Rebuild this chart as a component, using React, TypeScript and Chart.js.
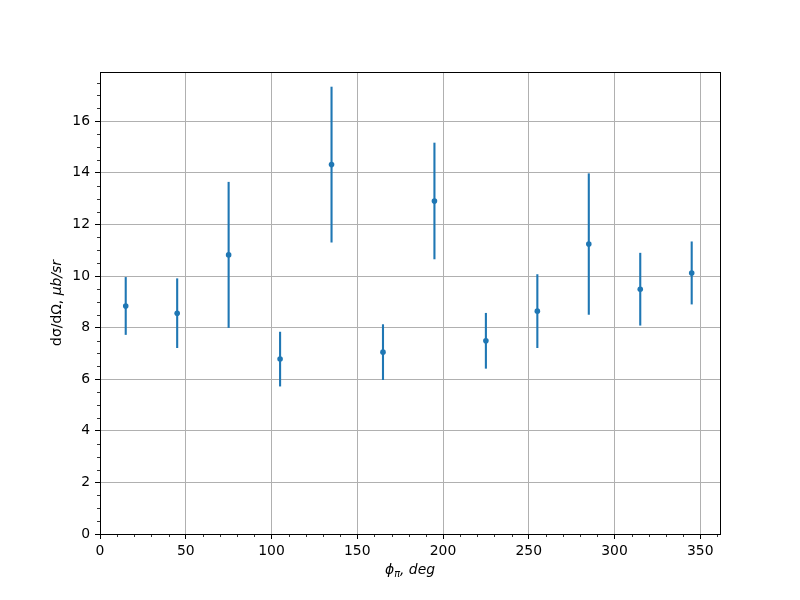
import { useEffect, useRef } from "react";
import { Chart, registerables } from "chart.js";

Chart.register(...registerables);

// ---- data ----
const phiDeg = [15, 45, 75, 105, 135, 165, 195, 225, 255, 285, 315, 345];
const crossSection = [8.84, 8.56, 10.82, 6.78, 14.32, 7.05, 12.91, 7.49, 8.64, 11.24, 9.49, 10.12];
const crossSectionError = [1.12, 1.35, 2.83, 1.06, 3.02, 1.08, 2.26, 1.08, 1.43, 2.74, 1.41, 1.22];
const xTickValues = [0, 50, 100, 150, 200, 250, 300, 350];
const yTickValues = [0, 2, 4, 6, 8, 10, 12, 14, 16];
const xMinorStep = 10;
const yMinorStep = 0.5;
const xLimits = [0, 361.5];
const yLimits = [0, 17.91];

const BLUE = "#1f77b4";
const FONT = "DejaVu Sans";
const FS = 13.9;

function minorTicks(min: number, max: number, step: number, majors: number[]) {
  const out: number[] = [];
  const n = Math.floor((max - min) / step + 1e-9);
  for (let i = 0; i <= n; i++) {
    const v = +(min + i * step).toFixed(6);
    if (!majors.some((m) => Math.abs(m - v) < 1e-6)) out.push(v);
  }
  return out;
}

function drawRuns(
  ctx: CanvasRenderingContext2D,
  runs: { text: string; font: string; dy?: number }[],
  cx: number,
  baseY: number
) {
  let total = 0;
  const widths = runs.map((r) => {
    ctx.font = r.font;
    const w = ctx.measureText(r.text).width;
    total += w;
    return w;
  });
  let x = cx - total / 2;
  ctx.textAlign = "left";
  ctx.textBaseline = "alphabetic";
  runs.forEach((r, i) => {
    ctx.font = r.font;
    ctx.fillText(r.text, x, baseY + (r.dy || 0));
    x += widths[i];
  });
}

const decorPlugin = {
  id: "decor",
  beforeDatasetsDraw(chart: any) {
    const { ctx, scales } = chart;
    const x = scales.x;
    const y = scales.y;
    ctx.save();
    ctx.strokeStyle = BLUE;
    ctx.lineWidth = 2.1;
    ctx.lineCap = "butt";
    phiDeg.forEach((p, i) => {
      const px = x.getPixelForValue(p);
      ctx.beginPath();
      ctx.moveTo(px, y.getPixelForValue(crossSection[i] - crossSectionError[i]));
      ctx.lineTo(px, y.getPixelForValue(crossSection[i] + crossSectionError[i]));
      ctx.stroke();
    });
    ctx.restore();
  },
  afterDraw(chart: any) {
    const { ctx, chartArea, scales } = chart;
    const x = scales.x;
    const y = scales.y;
    const { left, right, top, bottom } = chartArea;
    ctx.save();
    // minor ticks
    ctx.strokeStyle = "#000";
    ctx.lineWidth = 0.8;
    minorTicks(xLimits[0], xLimits[1], xMinorStep, xTickValues).forEach((v) => {
      const px = Math.round(x.getPixelForValue(v)) + 0.5;
      ctx.beginPath();
      ctx.moveTo(px, bottom);
      ctx.lineTo(px, bottom + 3);
      ctx.stroke();
    });
    minorTicks(yLimits[0], yLimits[1], yMinorStep, yTickValues).forEach((v) => {
      const py = Math.round(y.getPixelForValue(v)) + 0.5;
      ctx.beginPath();
      ctx.moveTo(left, py);
      ctx.lineTo(left - 3, py);
      ctx.stroke();
    });
    // frame
    ctx.lineWidth = 1;
    ctx.strokeStyle = "#000";
    ctx.strokeRect(Math.round(left) + 0.5, Math.round(top) + 0.5, Math.round(right - left), Math.round(bottom - top));
    // axis titles
    ctx.fillStyle = "#000";
    drawRuns(
      ctx,
      [
        { text: "ϕ", font: `italic ${FS}px "${FONT}"` },
        { text: "π", font: `italic ${FS * 0.7}px "${FONT}"`, dy: 2.5 },
        { text: ", deg", font: `italic ${FS}px "${FONT}"` },
      ],
      (left + right) / 2,
      574
    );
    ctx.save();
    ctx.translate(61, (top + bottom) / 2);
    ctx.rotate(-Math.PI / 2);
    drawRuns(
      ctx,
      [
        { text: "dσ/dΩ, ", font: `${FS}px "${FONT}"` },
        { text: "μb/sr", font: `italic ${FS}px "${FONT}"` },
      ],
      0,
      0
    );
    ctx.restore();
    ctx.restore();
  },
};

export default function App() {
  const ref = useRef<HTMLCanvasElement | null>(null);

  useEffect(() => {
    if (!ref.current) return;
    Chart.defaults.font.family = FONT;
    const chart = new Chart(ref.current, {
      type: "scatter",
      data: {
        datasets: [
          {
            data: phiDeg.map((p, i) => ({ x: p, y: crossSection[i] })),
            backgroundColor: BLUE,
            borderColor: BLUE,
            pointRadius: 2.8,
            pointBorderWidth: 0,
            pointHoverRadius: 2.8,
          },
        ],
      },
      options: {
        animation: false,
        responsive: false,
        events: [],
        layout: { padding: { left: 0, right: 80, top: 72, bottom: 0 } },
        plugins: {
          legend: { display: false },
          tooltip: { enabled: false },
        },
        scales: {
          x: {
            type: "linear",
            min: xLimits[0],
            max: xLimits[1],
            afterFit: (s: any) => {
              s.height = 66;
            },
            afterBuildTicks: (s: any) => {
              s.ticks = xTickValues.map((v) => ({ value: v }));
            },
            border: { display: false },
            grid: {
              color: "#b0b0b0",
              lineWidth: 1,
              tickColor: "#000",
              tickLength: 5,
              tickWidth: 1,
            },
            ticks: {
              color: "#000",
              font: { size: FS, family: FONT },
              padding: 4,
              maxRotation: 0,
              autoSkip: false,
              callback: (v: any) => String(v),
            },
          },
          y: {
            type: "linear",
            min: yLimits[0],
            max: yLimits[1],
            afterFit: (s: any) => {
              s.width = 100;
            },
            afterBuildTicks: (s: any) => {
              s.ticks = yTickValues.map((v) => ({ value: v }));
            },
            border: { display: false },
            grid: {
              color: "#b0b0b0",
              lineWidth: 1,
              tickColor: "#000",
              tickLength: 5,
              tickWidth: 1,
            },
            ticks: {
              color: "#000",
              font: { size: FS, family: FONT },
              padding: 5,
              autoSkip: false,
              callback: (v: any) => String(v),
            },
          },
        },
      },
      plugins: [decorPlugin],
    });
    return () => chart.destroy();
  }, []);

  return (
    <div style={{ position: "absolute", left: 0, top: 0, width: 800, height: 600, background: "#fff" }}>
      <canvas ref={ref} width={800} height={600} style={{ display: "block" }} />
    </div>
  );
}
